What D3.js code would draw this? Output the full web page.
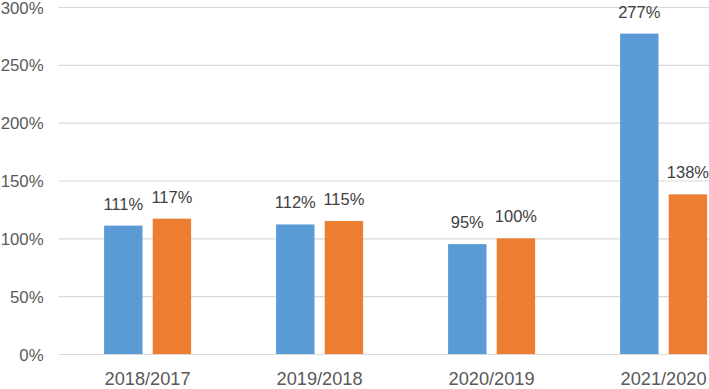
<!DOCTYPE html>
<html>
<head>
<meta charset="utf-8">
<script src="https://cdn.jsdelivr.net/npm/d3@7"></script>
<style>
  body { margin: 0; background: #fff; }
  text { font-family: "Liberation Sans", Arial, sans-serif; fill: #404040; }
</style>
</head>
<body>
<div id="chart"></div>
<script>
// values (percent)
var categories = ["2018/2017", "2019/2018", "2020/2019", "2021/2020"];
var seriesA = [111, 112, 95, 277];
var seriesB = [117, 115, 100, 138];
var yTicks = [0, 50, 100, 150, 200, 250, 300];
var colors = ["#5b9bd5", "#ed7d31"];

function main() {
    var W = 709, H = 389;
    var margin = { top: 7, left: 61.6, bottom: 35 },
        width = 688,
        height = H - margin.top - margin.bottom;

    var svg = d3.select("#chart")
        .append("svg")
        .attr("width", W)
        .attr("height", H)
        .append("g")
        .attr("transform", "translate(" + margin.left + "," + margin.top + ")");

    var y = d3.scaleLinear().domain([0, 300]).range([height, 0]);
    var x = d3.scaleBand().domain(categories).range([0, width]).paddingInner(0).paddingOuter(0);
    var inner = d3.scaleBand().domain([0, 1]).range([42.5, x.bandwidth() - 42.5]).paddingInner(0.21);

    // gridlines + tick labels
    svg.append("g")
        .call(d3.axisLeft(y).tickValues(yTicks).tickSize(-width).tickFormat(d => d + "%"))
        .call(g => g.select(".domain").remove())
        .call(g => g.selectAll("line").attr("stroke", "#d9d9d9").attr("stroke-width", 1.2).attr("x1", -3))
        .call(g => g.selectAll("text").attr("x", -18).attr("dy", "0.36em")
            .style("font-size", "16.8px").style("fill", "#595959"));

    var rows = categories.map((c, i) => ({ cat: c, vals: [seriesA[i], seriesB[i]] }));

    var groups = svg.selectAll(".grp")
        .data(rows)
        .enter()
        .append("g")
        .attr("transform", d => "translate(" + x(d.cat) + ",0)");

    var cells = groups.selectAll("g.cell")
        .data(d => d.vals.map((v, j) => ({ v: v, j: j })))
        .enter()
        .append("g");

    cells.append("rect")
        .attr("x", d => inner(d.j))
        .attr("width", inner.bandwidth())
        .attr("y", d => y(d.v))
        .attr("height", d => height - y(d.v))
        .attr("fill", d => colors[d.j]);

    cells.append("text")
        .attr("x", d => inner(d.j) + inner.bandwidth() / 2)
        .attr("y", d => y(d.v) - 16)
        .attr("text-anchor", "middle")
        .style("font-size", "16.5px")
        .text(d => d.v + "%");

    // category labels
    svg.append("g")
        .selectAll("text")
        .data(categories)
        .enter()
        .append("text")
        .attr("x", d => x(d) + x.bandwidth() / 2)
        .attr("y", height + 31)
        .attr("text-anchor", "middle")
        .style("font-size", "18.2px")
        .style("fill", "#595959")
        .text(d => d);
}

main();
</script>
</body>
</html>
